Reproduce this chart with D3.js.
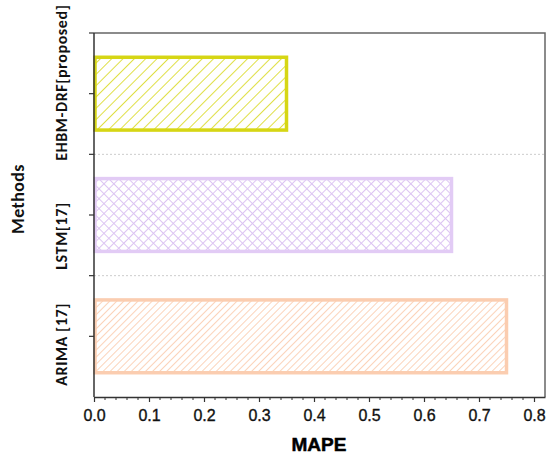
<!DOCTYPE html>
<html>
<head>
<meta charset="utf-8">
<script src="https://cdn.jsdelivr.net/npm/d3@7"></script>
<style>
  body { margin: 0; background: #fff; }
  svg { display: block; }
</style>
</head>
<body>
<script>
// data
const methods = ["EHBM-DRF[proposed]", "LSTM[17]", "ARIMA [17]"];
const mape = [0.35, 0.65, 0.75];
const xTicks = [0.0, 0.1, 0.2, 0.3, 0.4, 0.5, 0.6, 0.7, 0.8];

const w = 547, h = 455;
const m = { left: 94, right: 2, top: 33, bottom: 58 };

const strokes = ["#d6d614", "#e2cbf5", "#fbcdb0"];
const hatchColors = ["#dcdc30", "#dcc4f2", "#fbcbae"];
const labelShift = [-11, 21, 8]; // labels sit a bit off the tick in the original

const svg = d3.select("body").append("svg").attr("width", w).attr("height", h);

// hatch patterns
const defs = svg.append("defs");
const p0 = defs.append("pattern").attr("id", "hatch0").attr("patternUnits", "userSpaceOnUse")
  .attr("width", 8).attr("height", 8).attr("patternTransform", "rotate(45)");
p0.append("line").attr("x1", 0).attr("y1", 0).attr("x2", 0).attr("y2", 8)
  .attr("stroke", hatchColors[0]).attr("stroke-width", 1.8);

const p1 = defs.append("pattern").attr("id", "hatch1").attr("patternUnits", "userSpaceOnUse")
  .attr("width", 7).attr("height", 7).attr("patternTransform", "rotate(45)");
p1.append("line").attr("x1", 0).attr("y1", 0).attr("x2", 0).attr("y2", 7)
  .attr("stroke", hatchColors[1]).attr("stroke-width", 2);
p1.append("line").attr("x1", 0).attr("y1", 0).attr("x2", 7).attr("y2", 0)
  .attr("stroke", hatchColors[1]).attr("stroke-width", 2);

const p2 = defs.append("pattern").attr("id", "hatch2").attr("patternUnits", "userSpaceOnUse")
  .attr("width", 5).attr("height", 5).attr("patternTransform", "rotate(45)");
p2.append("line").attr("x1", 0).attr("y1", 0).attr("x2", 0).attr("y2", 5)
  .attr("stroke", hatchColors[2]).attr("stroke-width", 1.7);

// scales
const x = d3.scaleLinear().domain([0, 0.82]).range([m.left, w - m.right]);
const y = d3.scaleBand().domain(methods).range([m.top, h - m.bottom]).paddingInner(0.4).paddingOuter(0.2);
const yb = d3.scaleBand().domain(methods).range([m.top, h - m.bottom]);

// dotted separators
svg.selectAll("line.sep")
  .data(methods.slice(1))
  .enter().append("line")
  .attr("class", "sep")
  .attr("x1", m.left).attr("x2", w - m.right)
  .attr("y1", d => yb(d)).attr("y2", d => yb(d))
  .attr("stroke", "#ccc").attr("stroke-width", 1).attr("stroke-dasharray", "2,2");

// frame top and right
svg.append("path")
  .attr("d", `M${m.left},${m.top}H${w - m.right}V${h - m.bottom}`)
  .attr("fill", "none").attr("stroke", "#666").attr("stroke-width", 1.5);

// bars
svg.selectAll("rect.bar")
  .data(methods)
  .enter().append("rect")
  .attr("class", "bar")
  .attr("x", x(0) + 1)
  .attr("y", d => y(d))
  .attr("width", (d, i) => x(mape[i]) - x(0) - 1)
  .attr("height", y.bandwidth())
  .attr("fill", (d, i) => "url(#hatch" + i + ")")
  .attr("stroke", (d, i) => strokes[i])
  .attr("stroke-width", 3.5);

// x axis
const xAxis = svg.append("g")
  .attr("transform", "translate(0," + (h - m.bottom) + ")")
  .call(d3.axisBottom(x).tickValues(xTicks).tickFormat(d3.format(".1f")).tickSize(5).tickSizeOuter(0));
xAxis.select(".domain").attr("stroke", "#333").attr("stroke-width", 1.5);
xAxis.selectAll(".tick line").attr("stroke", "#333").attr("stroke-width", 1.2);
xAxis.selectAll("text")
  .attr("font-family", "Liberation Sans, Arial, sans-serif")
  .attr("font-size", 16).attr("fill", "#111")
  .attr("stroke", "#111").attr("stroke-width", 0.35)
  .attr("dy", "1.0em");

// minor ticks
const minor = d3.range(0.02, 0.82, 0.02).filter(v => Math.abs(v * 10 - Math.round(v * 10)) > 0.01);
svg.selectAll("line.minor")
  .data(minor)
  .enter().append("line")
  .attr("class", "minor")
  .attr("x1", d => x(d)).attr("x2", d => x(d))
  .attr("y1", h - m.bottom).attr("y2", h - m.bottom + 3)
  .attr("stroke", "#333").attr("stroke-width", 1);

// y axis: ticks at centers and at boundaries
const yTickPos = [];
methods.forEach(d => { yTickPos.push(yb(d)); yTickPos.push(yb(d) + yb.bandwidth() / 2); });
const yAxis = svg.append("g").attr("transform", "translate(" + m.left + ",0)");
yAxis.append("line")
  .attr("x1", 0).attr("x2", 0).attr("y1", m.top).attr("y2", h - m.bottom)
  .attr("stroke", "#333").attr("stroke-width", 1.5);
yAxis.selectAll("line.yt")
  .data(yTickPos)
  .enter().append("line")
  .attr("class", "yt")
  .attr("x1", -5).attr("x2", 0)
  .attr("y1", d => d).attr("y2", d => d)
  .attr("stroke", "#333").attr("stroke-width", 1.2);

// category labels
svg.selectAll("text.cat")
  .data(methods)
  .enter().append("text")
  .attr("class", "cat")
  .attr("transform", (d, i) => "translate(67," + (yb(d) + yb.bandwidth() / 2 + labelShift[i]) + ") rotate(-90)")
  .attr("text-anchor", "middle")
  .attr("font-family", "Carlito, Lato, 'Open Sans', sans-serif")
  .attr("font-size", 16).attr("font-weight", 600).attr("fill", "#111")
  .attr("letter-spacing", 0.6)
  .text(d => d);

// axis titles
svg.append("text")
  .attr("transform", "translate(24,199) rotate(-90)")
  .attr("text-anchor", "middle")
  .attr("font-family", "Carlito, Lato, 'Open Sans', sans-serif")
  .attr("font-size", 18).attr("font-weight", 600).attr("fill", "#111")
  .attr("letter-spacing", 0.4)
  .text("Methods");

svg.append("text")
  .attr("x", 319).attr("y", 451)
  .attr("text-anchor", "middle")
  .attr("font-family", "Liberation Sans, Arial, sans-serif")
  .attr("font-size", 19).attr("font-weight", "bold").attr("fill", "#000")
  .attr("stroke", "#000").attr("stroke-width", 0.5)
  .text("MAPE");
</script>
</body>
</html>
